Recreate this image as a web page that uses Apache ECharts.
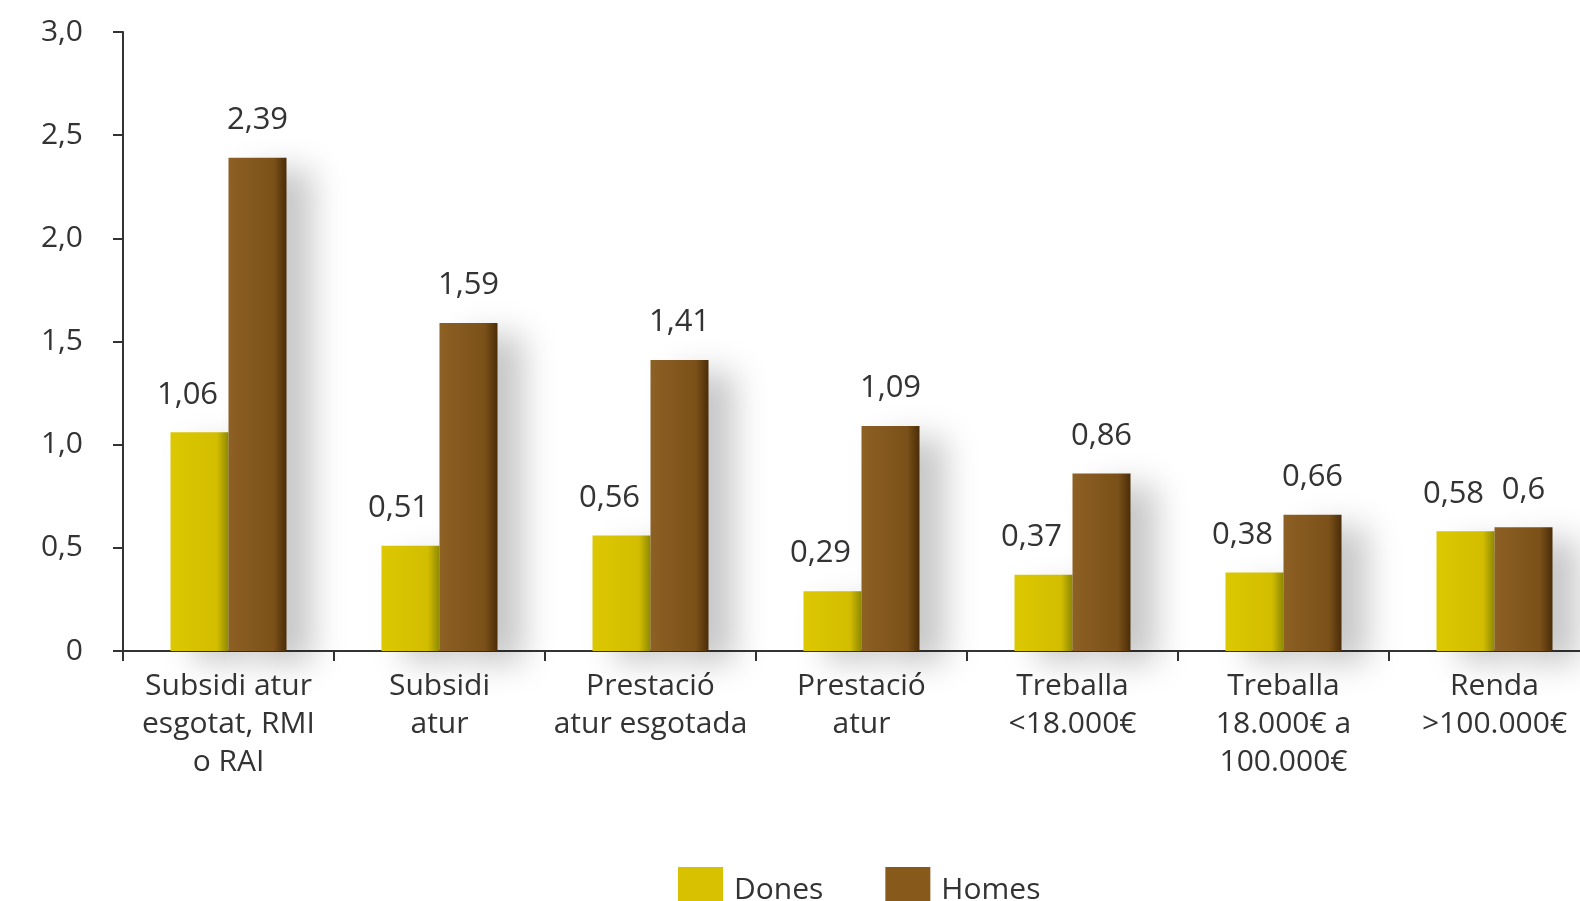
<!DOCTYPE html>
<html>
<head>
<meta charset="utf-8">
<script src="https://cdn.jsdelivr.net/npm/echarts@6/dist/echarts.min.js"></script>
<style>
html,body{margin:0;padding:0;background:#fff;overflow:hidden;width:1580px;height:901px;}
#chart{width:1610px;height:901px;}
</style>
</head>
<body>
<div id="chart"></div>
<script>
const categories = [
  'Subsidi atur\nesgotat, RMI\no RAI',
  'Subsidi\natur',
  'Prestació\natur esgotada',
  'Prestació\natur',
  'Treballa\n<18.000€',
  'Treballa\n18.000€ a\n100.000€',
  'Renda\n>100.000€'
];
const dones = [1.06, 0.51, 0.56, 0.29, 0.37, 0.38, 0.58];
const homes = [2.39, 1.59, 1.41, 1.09, 0.86, 0.66, 0.6];
const seriesNames = ['Dones', 'Homes'];

const FONT = '"Open Sans", sans-serif';
const fmt = v => v === 0 ? '0' : String(v).replace('.', ',');

const donesGrad = new echarts.graphic.LinearGradient(0, 0, 1, 0, [
  {offset: 0, color: '#dcc800'},
  {offset: 0.8, color: '#d3bd00'},
  {offset: 1, color: '#8f8a00'}
]);
const homesGrad = new echarts.graphic.LinearGradient(0, 0, 1, 0, [
  {offset: 0, color: '#8d6024'},
  {offset: 0.78, color: '#7b5119'},
  {offset: 1, color: '#4b2d08'}
]);

const chart = echarts.init(document.getElementById('chart'));
chart.setOption({
  backgroundColor: '#ffffff',
  animation: false,
  grid: {left: 123, width: 1477, top: 32, height: 619, containLabel: false},
  legend: {
    top: 862,
    left: 673,
    icon: 'rect',
    itemWidth: 45,
    itemHeight: 46,
    itemGap: 62,
    textStyle: {fontFamily: FONT, fontSize: 30, color: '#333', padding: [0, 0, 0, 6]},
    data: [
      {name: seriesNames[0], itemStyle: {color: '#d8c200', shadowBlur: 0}},
      {name: seriesNames[1], itemStyle: {color: '#875a1c', shadowBlur: 0}}
    ]
  },
  xAxis: {
    type: 'category',
    data: categories,
    axisLine: {show: true, lineStyle: {color: '#333', width: 2}},
    axisTick: {show: true, length: 10, lineStyle: {color: '#333', width: 2}},
    axisLabel: {
      interval: 0,
      margin: 16,
      fontFamily: FONT,
      fontSize: 30,
      lineHeight: 38,
      color: '#333'
    }
  },
  yAxis: {
    type: 'value',
    min: 0,
    max: 3,
    interval: 0.5,
    splitLine: {show: false},
    axisLine: {show: true, lineStyle: {color: '#333', width: 2}},
    axisTick: {show: true, length: 10, lineStyle: {color: '#333', width: 2}},
    axisLabel: {
      margin: 40,
      fontFamily: FONT,
      fontSize: 30,
      color: '#333',
      formatter: v => v === 0 ? '0' : v.toFixed(1).replace('.', ',')
    }
  },
  series: [
    {
      name: seriesNames[0],
      type: 'bar',
      data: dones,
      barWidth: 58,
      barGap: '0%',
      itemStyle: {
        color: donesGrad,
        shadowColor: 'rgba(0,0,0,0.2)',
        shadowBlur: 30,
        shadowOffsetX: 22,
        shadowOffsetY: 12
      },
      label: {
        show: true,
        position: 'top',
        distance: 22,
        offset: [-12, 0],
        fontFamily: FONT,
        fontSize: 31,
        color: '#333',
        formatter: p => fmt(p.value)
      }
    },
    {
      name: seriesNames[1],
      type: 'bar',
      data: homes,
      barWidth: 58,
      barGap: '0%',
      itemStyle: {
        color: homesGrad,
        shadowColor: 'rgba(0,0,0,0.22)',
        shadowBlur: 32,
        shadowOffsetX: 26,
        shadowOffsetY: 12
      },
      label: {
        show: true,
        position: 'top',
        distance: 22,
        fontFamily: FONT,
        fontSize: 31,
        color: '#333',
        formatter: p => fmt(p.value)
      }
    }
  ]
});
</script>
</body>
</html>
